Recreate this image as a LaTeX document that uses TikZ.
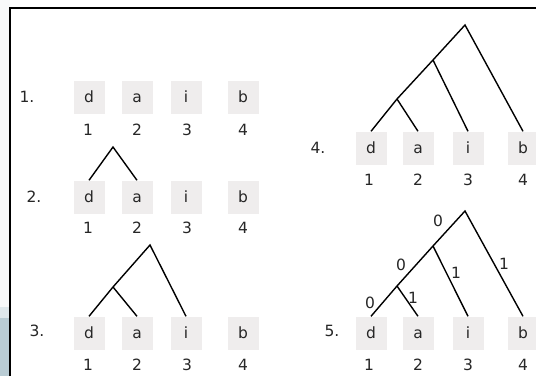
\documentclass[tikz,border=0pt]{standalone}
\usepackage{fontspec}
\setmainfont{DejaVu Sans}
\definecolor{txt}{HTML}{262626}
\definecolor{boxgray}{HTML}{EFEDED}
\definecolor{stripA}{HTML}{F8F9FA}
\definecolor{stripB}{HTML}{DFE8EC}
\definecolor{stripC}{HTML}{B9CCD4}
\begin{document}
\begin{tikzpicture}[x=1pt,y=-1pt,
  every node/.style={font=\fontsize{15.5}{18}\selectfont, text=txt},
  lbox/.style={fill=boxgray, minimum width=31pt, minimum height=33pt, inner sep=0pt, text height=11.5pt, text depth=0pt},
  num/.style={inner sep=0pt, text height=11.5pt, text depth=0pt},
  rowlbl/.style={inner sep=0pt, text height=11.5pt, text depth=0pt},
  bit/.style={inner sep=0pt, text height=11.5pt, text depth=0pt},
  branch/.style={line width=1.4pt, black},
  frame/.style={line width=1.8pt, black}]
\useasboundingbox (0,0) rectangle (536,376);
\fill[white] (0,0) rectangle (536,376);
% left strip
\fill[stripA] (0,0) rectangle (10,307);
\fill[stripB] (0,307) rectangle (10,318);
\fill[stripC] (0,318) rectangle (10,376);
% frame
\draw[frame] (10,376) -- (10,8) -- (536,8);

% ---------- row 1 ----------
\node[rowlbl] (l1) at (27,97) {1.};
\node[lbox] (a1) at (89,97) {d};
\node[lbox] (b1) at (137,97) {a};
\node[lbox] (c1) at (186,97) {i};
\node[lbox] (d1) at (243,97) {b};
\node[num] (na1) at (88,130) {1};
\node[num] (nb1) at (137,130) {2};
\node[num] (nc1) at (187,130) {3};
\node[num] (nd1) at (243,130) {4};

% ---------- row 2 ----------
\node[rowlbl] (l2) at (34,197) {2.};
\node[lbox] (a2) at (89,197) {d};
\node[lbox] (b2) at (137,197) {a};
\node[lbox] (c2) at (186,197) {i};
\node[lbox] (d2) at (243,197) {b};
\node[num] (na2) at (88,228) {1};
\node[num] (nb2) at (137,228) {2};
\node[num] (nc2) at (187,228) {3};
\node[num] (nd2) at (243,228) {4};
\coordinate (t2r) at (113,147);
\draw[branch] (a2.north) -- (t2r) -- (b2.north);

% ---------- row 3 ----------
\node[rowlbl] (l3) at (37,331) {3.};
\node[lbox] (a3) at (89,333) {d};
\node[lbox] (b3) at (137,333) {a};
\node[lbox] (c3) at (186,333) {i};
\node[lbox] (d3) at (243,333) {b};
\node[num] (na3) at (88,365) {1};
\node[num] (nb3) at (137,365) {2};
\node[num] (nc3) at (187,365) {3};
\node[num] (nd3) at (243,365) {4};
\coordinate (t3r) at (150,245);
\coordinate (t3m) at (113,287);
\draw[branch] (a3.north) -- (t3m) -- (t3r) -- (c3.north);
\draw[branch] (t3m) -- (b3.north);

% ---------- row 4 ----------
\node[rowlbl] (l4) at (318,148) {4.};
\node[lbox] (a4) at (371,148) {d};
\node[lbox] (b4) at (418,148) {a};
\node[lbox] (c4) at (468,148) {i};
\node[lbox] (d4) at (523,148) {b};
\node[num] (na4) at (369,180) {1};
\node[num] (nb4) at (418,180) {2};
\node[num] (nc4) at (468,180) {3};
\node[num] (nd4) at (523,180) {4};
\coordinate (t4r) at (465,25);
\coordinate (t4m) at (433,60);
\coordinate (t4l) at (397,99);
\draw[branch] (a4.north) -- (t4l) -- (t4m) -- (t4r) -- (d4.north);
\draw[branch] (t4l) -- (b4.north);
\draw[branch] (t4m) -- (c4.north);

% ---------- row 5 ----------
\node[rowlbl] (l5) at (332,331) {5.};
\node[lbox] (a5) at (371,333) {d};
\node[lbox] (b5) at (418,333) {a};
\node[lbox] (c5) at (468,333) {i};
\node[lbox] (d5) at (523,333) {b};
\node[num] (na5) at (369,365) {1};
\node[num] (nb5) at (418,365) {2};
\node[num] (nc5) at (468,365) {3};
\node[num] (nd5) at (523,365) {4};
\coordinate (t5r) at (465,211);
\coordinate (t5m) at (433,246);
\coordinate (t5l) at (397,286);
\draw[branch] (a5.north) -- (t5l) -- (t5m) -- (t5r) -- (d5.north);
\draw[branch] (t5l) -- (b5.north);
\draw[branch] (t5m) -- (c5.north);
\node[bit] (z1) at (438,221) {0};
\node[bit] (z2) at (401,265) {0};
\node[bit] (z3) at (370,303) {0};
\node[bit] (o1) at (413,298) {1};
\node[bit] (o2) at (456,273) {1};
\node[bit] (o3) at (504,264) {1};
\end{tikzpicture}
\end{document}
